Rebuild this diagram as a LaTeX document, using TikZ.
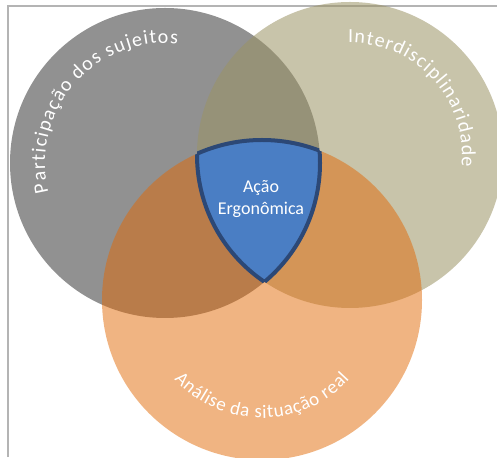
\documentclass[tikz,border=0pt]{standalone}
\usepackage{fontspec}
\setmainfont{Carlito}
\usepackage{tikz}
\usetikzlibrary{decorations.text}
\usepackage{xcolor}
\definecolor{sujgrey}{RGB}{145,145,145}
\definecolor{intbeige}{RGB}{155,147,100}
\definecolor{anaorange}{RGB}{225,105,5}
\definecolor{acaoblue}{RGB}{74,126,196}
\definecolor{acaoline}{RGB}{44,72,118}
\definecolor{framegrey}{RGB}{180,180,180}

\begin{document}
\begin{tikzpicture}[x=1pt,y=1pt,
  circtext/.style={decorate,decoration={text along path,text align=fit to path,text={#1}}},
  acaoedge/.style={draw=acaoline,line width=4pt}]
  \useasboundingbox (0,0) rectangle (497,457);
  \coordinate (suj) at (165,294);
  \coordinate (int) at (350,302);
  \coordinate (ana) at (262,157);
  \draw[framegrey,line width=2pt] (8,0) -- (8,451) -- (497,451);
  \fill[sujgrey] (suj) circle[radius=155];
  \fill[intbeige,fill opacity=0.55] (int) circle[radius=153];
  \fill[anaorange,fill opacity=0.5] (ana) circle[radius=160];
  % intersection of the three
  \begin{scope}
    \clip (suj) circle[radius=155];
    \clip (int) circle[radius=153];
    \fill[acaoblue] (ana) circle[radius=160];
    \draw[acaoedge] (ana) circle[radius=160];
  \end{scope}
  \begin{scope}
    \clip (suj) circle[radius=155];
    \clip (ana) circle[radius=160];
    \draw[acaoedge] (int) circle[radius=153];
  \end{scope}
  \begin{scope}
    \clip (int) circle[radius=153];
    \clip (ana) circle[radius=160];
    \draw[acaoedge] (suj) circle[radius=155];
  \end{scope}
  \node[white,align=center,font=\fontsize{18}{22}\selectfont] (acao) at (261,258) {Ação\\Ergonômica};
  \path[circtext={|\color{white}\fontsize{20}{20}\selectfont|Participação dos sujeitos}]
    ([shift={(194:120)}]suj) arc[start angle=194,end angle=84,radius=120];
  \path[circtext={|\color{white}\fontsize{20}{20}\selectfont|Interdisciplinaridade}]
    ([shift={(91:112)}]int) arc[start angle=91,end angle=-6,radius=112];
  \path[circtext={|\color{white}\fontsize{19}{19}\selectfont|Análise da situação real}]
    ([shift={(222:118)}]ana) arc[start angle=222,end angle=318,radius=118];
\end{tikzpicture}
\end{document}
